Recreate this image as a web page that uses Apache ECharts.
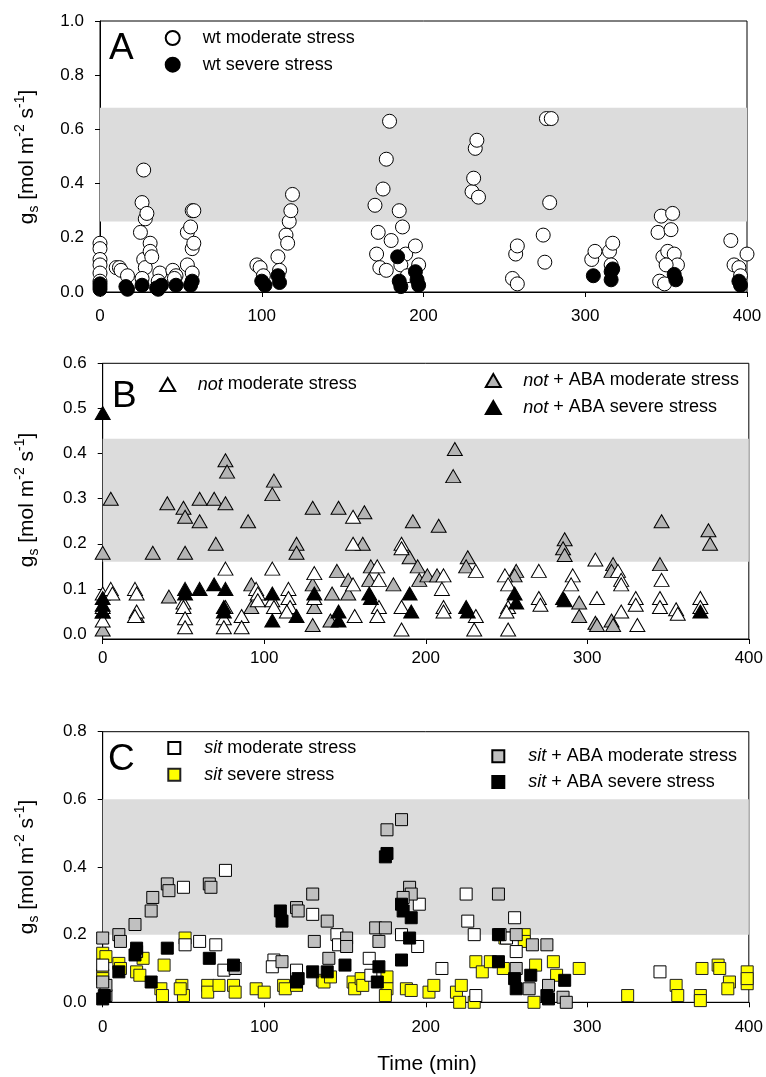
<!DOCTYPE html>
<html><head><meta charset="utf-8">
<script src="https://cdn.jsdelivr.net/npm/echarts@6/dist/echarts.min.js"></script>
<style>html,body{margin:0;padding:0;background:#fff}#c{width:766px;height:1077px}</style>
</head><body><div id="c"></div>
<script>
const FONT = '"Liberation Sans", Arial, sans-serif';
const xTicks = [0, 100, 200, 300, 400];
const yTicksA = [0, 0.2, 0.4, 0.6, 0.8, 1.0];
const yTicksB = [0, 0.1, 0.2, 0.3, 0.4, 0.5, 0.6];
const yTicksC = [0, 0.2, 0.4, 0.6, 0.8];
const bandA = [0.26, 0.68];
const bandB = [0.16, 0.433];
const bandC = [0.20, 0.60];

// Panel A
const wtModerate = [[0,0.18],[0,0.16],[0,0.12],[0,0.10],[0,0.07],[0,0.04],
 [10,0.09],[12,0.09],[13,0.08],[17,0.06],
 [25,0.22],[26,0.33],[27,0.45],[28,0.27],[29,0.29],[27,0.12],[28,0.09],[26,0.05],[31,0.18],[31,0.15],[32,0.13],
 [37,0.07],[36,0.04],[45,0.08],[47,0.06],[46,0.05],
 [54,0.10],[54,0.22],[56,0.24],[57,0.30],[58,0.30],[57,0.16],[58,0.18],[57,0.07],
 [97,0.10],[99,0.09],[101,0.06],[110,0.13],[111,0.08],
 [115,0.21],[116,0.18],[117,0.26],[118,0.30],[119,0.36],
 [170,0.32],[171,0.14],[172,0.22],[173,0.09],[175,0.38],[177,0.49],[179,0.63],[177,0.08],[180,0.19],
 [185,0.30],[187,0.24],[189,0.14],[186,0.10],[195,0.17],[197,0.10],[190,0.06],
 [230,0.37],[231,0.42],[232,0.53],[233,0.56],[234,0.35],
 [255,0.05],[258,0.03],[257,0.14],[258,0.17],
 [274,0.21],[275,0.11],[276,0.64],[279,0.64],[278,0.33],
 [304,0.12],[306,0.15],[315,0.15],[317,0.18],[316,0.10],
 [345,0.22],[347,0.28],[353,0.23],[354,0.29],[348,0.13],[351,0.15],[355,0.14],[357,0.10],[350,0.10],[346,0.04],[349,0.03],
 [390,0.19],[392,0.10],[395,0.09],[396,0.06],[400,0.14]];
const wtSevere = [[0,0.03],[0,0.01],[0,0.02],[16,0.02],[17,0.01],[26,0.025],[35,0.015],[38,0.025],[36,0.01],
 [47,0.025],[56,0.025],[57,0.04],[100,0.04],[102,0.025],[110,0.06],[111,0.035],
 [184,0.13],[185,0.04],[186,0.02],[195,0.075],[196,0.045],[197,0.025],
 [305,0.06],[316,0.075],[316,0.045],[317,0.085],[355,0.065],[356,0.045],[395,0.04],[396,0.025]];

// Panel B
const notModerate = [[0,0.09],[0,0.06],[0,0.03],[5,0.10],[6,0.09],[20,0.10],[21,0.09],[21,0.05],[20,0.04],
 [50,0.07],[50,0.06],[51,0.035],[51,0.015],[76,0.145],[76,0.06],[75,0.035],[75,0.015],[86,0.04],[86,0.015],
 [95,0.10],[96,0.09],[96,0.075],[105,0.145],[105,0.075],[106,0.06],[115,0.10],[115,0.08],[116,0.06],[114,0.05],
 [131,0.135],[131,0.08],[155,0.26],[155,0.20],[185,0.20],[185,0.19],[170,0.15],[171,0.12],[155,0.11],[171,0.06],
 [170,0.04],[156,0.04],[185,0.06],[185,0.01],[211,0.13],[210,0.10],[211,0.06],[211,0.05],[231,0.14],[231,0.04],
 [230,0.01],[249,0.13],[251,0.11],[251,0.06],[250,0.05],[251,0.01],[270,0.14],[270,0.08],[271,0.065],
 [291,0.13],[290,0.11],[305,0.165],[306,0.08],[319,0.14],[321,0.12],[321,0.11],[321,0.05],[330,0.08],[330,0.065],
 [331,0.02],[346,0.12],[345,0.08],[345,0.06],[355,0.055],[356,0.045],[370,0.08],[370,0.06]];
const notAbaModerate = [[0,0.18],[5,0.30],[31,0.18],[40,0.29],[50,0.28],[51,0.26],[51,0.18],[60,0.30],[60,0.25],
 [69,0.30],[70,0.20],[76,0.385],[77,0.36],[76,0.29],[90,0.25],[106,0.34],[105,0.31],[120,0.20],[120,0.18],[130,0.28],
 [146,0.28],[162,0.27],[161,0.20],[192,0.25],[208,0.24],[218,0.41],[217,0.35],[286,0.21],[285,0.19],[286,0.175],
 [346,0.25],[375,0.23],[376,0.20],
 [0,0.05],[0,0.01],[21,0.04],[41,0.083],[92,0.06],[92,0.11],[130,0.02],[130,0.11],[131,0.06],[142,0.09],[141,0.03],
 [145,0.14],[152,0.12],[152,0.09],[166,0.15],[165,0.12],[180,0.11],[190,0.17],[195,0.15],[196,0.12],[201,0.13],
 [207,0.13],[226,0.17],[225,0.15],[256,0.14],[255,0.13],[316,0.155],[315,0.14],[345,0.155],[295,0.07],[295,0.04],
 [305,0.025],[306,0.02],[315,0.03],[316,0.02]];
const notAbaSevere = [[0,0.49],[0,0.08],[0,0.065],[0,0.05],[51,0.10],[51,0.09],[60,0.10],[69,0.11],[76,0.10],[75,0.06],
 [75,0.05],[105,0.09],[105,0.03],[120,0.04],[131,0.09],[146,0.05],[146,0.03],[165,0.09],[166,0.08],[190,0.09],
 [191,0.05],[225,0.06],[226,0.05],[255,0.09],[256,0.07],[285,0.08],[286,0.075],[370,0.05]];

// Panel C
const sitModerate = [[0,0.11],[50,0.34],[51,0.17],[60,0.18],[70,0.17],[76,0.39],[75,0.095],[106,0.125],[105,0.105],
 [120,0.095],[130,0.26],[145,0.20],[146,0.17],[165,0.13],[166,0.08],[185,0.20],[196,0.29],[195,0.165],[210,0.10],
 [225,0.32],[226,0.24],[230,0.20],[231,0.02],[255,0.25],[250,0.19],[256,0.15],[345,0.09]];
const sitSevere = [[0,0.145],[2,0.135],[0,0.08],[0,0.07],[10,0.115],[11,0.10],[21,0.09],[23,0.08],[25,0.13],
 [36,0.04],[37,0.02],[38,0.11],[49,0.05],[50,0.02],[48,0.04],[51,0.19],[65,0.05],[65,0.03],[72,0.05],[81,0.05],
 [82,0.03],[95,0.04],[100,0.03],[112,0.05],[113,0.04],[120,0.05],[136,0.065],[137,0.06],[141,0.075],[155,0.06],
 [156,0.04],[160,0.07],[161,0.05],[176,0.075],[176,0.04],[175,0.02],[188,0.04],[191,0.035],[202,0.03],[205,0.05],
 [219,0.03],[222,0.05],[221,0.0],[230,0.0],[231,0.12],[235,0.09],[240,0.12],[248,0.10],[249,0.19],[261,0.20],
 [261,0.18],[268,0.11],[267,0.0],[279,0.12],[281,0.08],[295,0.10],[325,0.02],[355,0.05],[356,0.02],[371,0.10],
 [370,0.02],[370,0.005],[381,0.11],[382,0.10],[388,0.06],[387,0.04],[399,0.09],[399,0.055],[399,0.07]];
const sitAbaModerate = [[0,0.19],[2,0.02],[2,0.05],[0,0.06],[10,0.20],[11,0.18],[20,0.23],[21,0.15],[30,0.27],
 [31,0.31],[40,0.35],[41,0.33],[66,0.35],[67,0.34],[82,0.10],[111,0.12],[120,0.28],[121,0.27],[130,0.32],[131,0.18],
 [139,0.24],[140,0.13],[151,0.19],[151,0.165],[169,0.22],[175,0.22],[171,0.18],[176,0.51],[185,0.54],[190,0.34],
 [191,0.32],[186,0.31],[245,0.32],[246,0.20],[256,0.20],[266,0.17],[275,0.17],[256,0.10],[264,0.04],[276,0.05],
 [285,0.015],[287,0.0]];
const sitAbaSevere = [[0,0.01],[1,0.02],[10,0.09],[21,0.16],[20,0.14],[30,0.06],[40,0.16],[66,0.13],[81,0.11],
 [110,0.27],[111,0.24],[120,0.06],[121,0.07],[130,0.09],[139,0.09],[150,0.11],[171,0.105],[170,0.06],[176,0.44],
 [175,0.43],[185,0.29],[186,0.27],[191,0.25],[190,0.19],[185,0.125],[245,0.12],[245,0.20],[255,0.07],[256,0.04],
 [265,0.08],[275,0.02],[276,0.01],[286,0.065]];

const chart = echarts.init(document.getElementById('c'), null, {renderer:'canvas'});

function xAxisCfg(gi, margin) {
  return {type:'value', gridIndex:gi, min:xTicks[0], max:xTicks[xTicks.length-1], interval:100,
    axisLine:{show:true, onZero:false, lineStyle:{color:'#000', width:1}},
    axisTick:{show:true, inside:false, length:5, lineStyle:{color:'#000'}},
    axisLabel:{margin:margin, fontSize:17, color:'#000', fontFamily:FONT},
    splitLine:{show:false}};
}
function yAxisCfg(gi, min, max, ticks) {
  return {type:'value', gridIndex:gi, min:min, max:max,
    axisLine:{show:true, onZero:false, lineStyle:{color:'#000', width:1}},
    axisTick:{show:true, inside:false, length:5, lineStyle:{color:'#000'}, customValues:ticks},
    axisLabel:{margin:16, fontSize:17, color:'#000', fontFamily:FONT, customValues:ticks,
      formatter:v => v.toFixed(1)},
    splitLine:{show:false}};
}
function band(gi, b) {
  return {type:'scatter', xAxisIndex:gi, yAxisIndex:gi, data:[], z:1, silent:true,
    markArea:{silent:true, itemStyle:{color:'#dcdcdc', opacity:1, borderWidth:0},
      data:[[{yAxis:b[0]},{yAxis:b[1]}]]}};
}
function sc(name, gi, data, symbol, size, fill, border) {
  return {type:'scatter', name:name, xAxisIndex:gi, yAxisIndex:gi, data:data, symbol:symbol, symbolSize:size,
    z:2, itemStyle:{color:fill, borderColor:border || '#000', borderWidth:1, opacity:1}};
}
// legend item: icon centred at (cx, cy), text starting 30px right of icon centre
function leg(name, cx, cy, w, h) {
  const gap = 30 - w / 2 - 5;
  return {show:true, data:[name], left:cx - w / 2, top:cy - h / 2, itemWidth:w, itemHeight:h, padding:0,
    selectedMode:false, symbolKeepAspect:true,
    formatter: n => { const m = n.match(/^(not|sit)(.*)$/);
      return '{g| }' + (m ? '{i|'+m[1]+'}{n|'+m[2]+'}' : '{n|'+n+'}'); },
    textStyle:{fontSize:18, color:'#000', fontFamily:FONT, lineHeight:h,
      rich:{g:{width:gap, fontSize:18, fontFamily:FONT},
            i:{fontStyle:'italic', fontSize:18, color:'#000', fontFamily:FONT},
            n:{fontSize:18, color:'#000', fontFamily:FONT}}}};
}
function yTitle(x, y) {
  return {type:'text', x:x, y:y, rotation:Math.PI/2, z:10,
    style:{text:'{n|g}{sub|s}{n| [mol m}{sup|-2}{n| s}{sup|-1}{n|]}', align:'center', verticalAlign:'middle',
      rich:{n:{fontSize:21, fontFamily:FONT, fill:'#000', lineHeight:28, verticalAlign:'middle'},
            sub:{fontSize:14, fontFamily:FONT, fill:'#000', lineHeight:14, verticalAlign:'bottom'},
            sup:{fontSize:14, fontFamily:FONT, fill:'#000', lineHeight:14, verticalAlign:'top'}}}};
}
function letter(t, x, y) {
  return {type:'text', x:x, y:y, z:10, style:{text:t, fontSize:37, fontFamily:FONT, fill:'#000', align:'left', verticalAlign:'middle'}};
}

const option = {
  animation:false,
  backgroundColor:'#fff',
  grid:[
    {left:100, top:21, right:19, bottom:785, show:true, borderColor:'#000', borderWidth:1, backgroundColor:'transparent'},
    {left:102.7, top:363.3, right:17, bottom:438, show:true, borderColor:'#000', borderWidth:1, backgroundColor:'transparent'},
    {left:102.7, top:731.7, right:17, bottom:74.7, show:true, borderColor:'#000', borderWidth:1, backgroundColor:'transparent'}
  ],
  xAxis:[xAxisCfg(0,16), xAxisCfg(1,11), xAxisCfg(2,17)],
  yAxis:[yAxisCfg(0, yTicksA[0], yTicksA[yTicksA.length-1], yTicksA),
         yAxisCfg(1, -0.011, yTicksB[yTicksB.length-1], yTicksB),
         yAxisCfg(2, yTicksC[0], yTicksC[yTicksC.length-1], yTicksC)],
  legend:[
    leg('wt moderate stress', 171.7, 36, 14, 14),
    leg('wt severe stress', 171.7, 62.7, 14, 14),
    leg('not moderate stress', 166.7, 382, 15, 13),
    leg('not + ABA moderate stress', 492.3, 378, 15, 13),
    leg('not + ABA severe stress', 492.3, 405, 15, 13),
    leg('sit moderate stress', 173.3, 745, 12, 12),
    leg('sit severe stress', 173.3, 771.7, 12, 12),
    leg('sit + ABA moderate stress', 497.3, 753.3, 12, 12),
    leg('sit + ABA severe stress', 497.3, 779, 12, 12)
  ],
  series:[
    band(0, bandA), band(1, bandB), band(2, bandC),
    sc('wt moderate stress', 0, wtModerate, 'circle', 14, '#ffffff'),
    sc('wt severe stress', 0, wtSevere, 'circle', 14, '#000000'),
    sc('not + ABA moderate stress', 1, notAbaModerate, 'triangle', [15,13], '#b4b4b4'),
    sc('not moderate stress', 1, notModerate, 'triangle', [15,13], '#ffffff'),
    sc('not + ABA severe stress', 1, notAbaSevere, 'triangle', [15,13], '#000000'),
    sc('sit severe stress', 2, sitSevere, 'rect', 12, '#ffff00', '#222'),
    sc('sit moderate stress', 2, sitModerate, 'rect', 12, '#ffffff'),
    sc('sit + ABA moderate stress', 2, sitAbaModerate, 'rect', 12, '#c0c0c0'),
    sc('sit + ABA severe stress', 2, sitAbaSevere, 'rect', 12, '#000000')
  ],
  graphic:[
    letter('A', 109, 49), letter('B', 112, 397), letter('C', 108, 760),
    yTitle(27, 157), yTitle(27, 500), yTitle(27, 867),
    {type:'text', x:427, y:1064, z:10, style:{text:'Time (min)', fontSize:21, fontFamily:FONT, fill:'#000', align:'center', verticalAlign:'middle'}}
  ]
};
chart.setOption(option);
</script></body></html>
